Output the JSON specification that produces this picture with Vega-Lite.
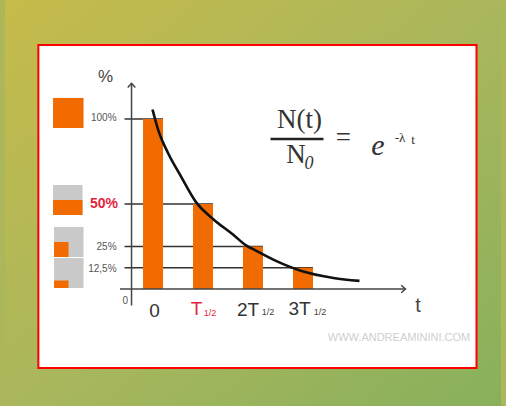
{
  "$schema": "https://vega.github.io/schema/vega-lite/v6.json",
  "width": 506,
  "height": 406,
  "autosize": {"type": "fit", "contains": "padding"},
  "padding": 0,
  "background": "#abb75a",
  "config": {"view": {"stroke": null}},
  "datasets": {
    "bars": [
      {"t": 0, "pct": 100},
      {"t": 1, "pct": 50},
      {"t": 2, "pct": 25},
      {"t": 3, "pct": 12.5}
    ],
    "curve": [
      {"t": -0.01, "pct": 105.6},
      {"t": 0.11, "pct": 93},
      {"t": 0.3, "pct": 80},
      {"t": 0.55, "pct": 66.7},
      {"t": 0.86, "pct": 51.1},
      {"t": 1.2, "pct": 41.2},
      {"t": 1.6, "pct": 32},
      {"t": 1.86, "pct": 25.7},
      {"t": 2.05, "pct": 22.7},
      {"t": 2.47, "pct": 16.4},
      {"t": 2.97, "pct": 10.6},
      {"t": 3.61, "pct": 6.5},
      {"t": 4.13, "pct": 4.8}
    ],
    "icons": [
      {"kind": "fill", "x0": -2.0, "x1": -1.39, "y0": 112.4, "y1": 94.7},
      {"kind": "box", "x0": -2.0, "x1": -1.41, "y0": 61.2, "y1": 43.5},
      {"kind": "fill", "x0": -2.0, "x1": -1.41, "y0": 52.4, "y1": 43.5},
      {"kind": "box", "x0": -1.98, "x1": -1.39, "y0": 36.5, "y1": 18.8},
      {"kind": "fill", "x0": -1.98, "x1": -1.69, "y0": 27.6, "y1": 18.8},
      {"kind": "box", "x0": -1.98, "x1": -1.39, "y0": 18.2, "y1": 0.6},
      {"kind": "fill", "x0": -1.98, "x1": -1.69, "y0": 5.0, "y1": 0.6}
    ],
    "arrows": [
      {"dir": "up", "t": -0.43, "pct": 121},
      {"dir": "right", "t": 5.05, "pct": 0}
    ],
    "ylabels": [
      {"label": "100%", "t": -0.73, "pct": 100.5},
      {"label": "25%", "t": -0.73, "pct": 24.6},
      {"label": "12,5%", "t": -0.73, "pct": 12},
      {"label": "0", "t": -0.5, "pct": -7}
    ],
    "xlabels": [
      {"label": "0", "t": 0.03, "pct": -13},
      {"label": "2T", "t": 1.9, "pct": -12.4},
      {"label": "3T", "t": 2.93, "pct": -12}
    ],
    "subs": [
      {"label": "1/2", "t": 2.3, "pct": -13.7},
      {"label": "1/2", "t": 3.34, "pct": -13.4}
    ],
    "formulaBig": [
      {"label": "N(t)", "t": 2.93, "pct": 99.6},
      {"label": "N", "t": 2.86, "pct": 78.9},
      {"label": "=", "t": 3.81, "pct": 88.8}
    ],
    "formulaSup": [
      {"label": "-λ", "t": 4.94, "pct": 88.6},
      {"label": "t", "t": 5.2, "pct": 87.8}
    ]
  },
  "layer": [
    {
      "data": {"values": [{"a": 1}]},
      "mark": {"type": "rect", "fill": {"gradient": "linear", "x1": 0, "y1": 0, "x2": 1, "y2": 1, "stops": [{"offset": 0, "color": "#c6bb4a"}, {"offset": 0.5, "color": "#aab75c"}, {"offset": 1, "color": "#88b05c"}]}},
      "encoding": {
        "x": {"datum": -2.961, "type": "quantitative", "scale": {"domain": [-2.961, 6.961], "nice": false, "zero": false}, "axis": null},
        "x2": {"datum": 6.961},
        "y": {"datum": 170, "type": "quantitative", "scale": {"domain": [-68.82, 170], "nice": false, "zero": false}, "axis": null},
        "y2": {"datum": -68.82}
      }
    },
    {
      "data": {"values": [{"a": 1}]},
      "mark": {"type": "rect", "fill": "#ffffff", "stroke": "#ff0000", "strokeWidth": 2},
      "encoding": {
        "x": {"datum": -2.294, "type": "quantitative", "scale": {"domain": [-2.961, 6.961], "nice": false, "zero": false}, "axis": null},
        "x2": {"datum": 6.471},
        "y": {"datum": 143.5, "type": "quantitative", "scale": {"domain": [-68.82, 170], "nice": false, "zero": false}, "axis": null},
        "y2": {"datum": -46.5}
      }
    },
    {
      "data": {"name": "bars"},
      "mark": {"type": "rule", "stroke": "#333333", "strokeWidth": 1.5, "xOffset": 10},
      "encoding": {
        "x": {"field": "t", "type": "quantitative", "scale": {"domain": [-2.961, 6.961], "nice": false, "zero": false}, "axis": null},
        "x2": {"datum": -0.57},
        "y": {"field": "pct", "type": "quantitative", "scale": {"domain": [-68.82, 170], "nice": false, "zero": false}, "axis": null}
      }
    },
    {
      "data": {"name": "icons"},
      "mark": {"type": "rect"},
      "encoding": {
        "x": {"field": "x0", "type": "quantitative", "scale": {"domain": [-2.961, 6.961], "nice": false, "zero": false}, "axis": null},
        "x2": {"field": "x1"},
        "y": {"field": "y0", "type": "quantitative", "scale": {"domain": [-68.82, 170], "nice": false, "zero": false}, "axis": null},
        "y2": {"field": "y1"},
        "color": {"field": "kind", "type": "nominal", "scale": {"domain": ["box", "fill"], "range": ["#c9c9c9", "#f26b00"]}, "legend": null}
      }
    },
    {
      "data": {"name": "bars"},
      "mark": {"type": "bar", "color": "#f26b00", "size": 20, "orient": "vertical"},
      "encoding": {
        "x": {"field": "t", "type": "quantitative", "scale": {"domain": [-2.961, 6.961], "nice": false, "zero": false}, "axis": null},
        "y": {"field": "pct", "type": "quantitative", "scale": {"domain": [-68.82, 170], "nice": false, "zero": false}, "axis": null},
        "y2": {"datum": 0}
      }
    },
    {
      "data": {"values": [{"a": 1}]},
      "mark": {"type": "rule", "stroke": "#444444", "strokeWidth": 1.5},
      "encoding": {
        "x": {"datum": -0.43, "type": "quantitative", "scale": {"domain": [-2.961, 6.961], "nice": false, "zero": false}, "axis": null},
        "y": {"datum": -9.7, "type": "quantitative", "scale": {"domain": [-68.82, 170], "nice": false, "zero": false}, "axis": null},
        "y2": {"datum": 121}
      }
    },
    {
      "data": {"values": [{"a": 1}]},
      "mark": {"type": "rule", "stroke": "#444444", "strokeWidth": 1.5},
      "encoding": {
        "x": {"datum": -0.66, "type": "quantitative", "scale": {"domain": [-2.961, 6.961], "nice": false, "zero": false}, "axis": null},
        "x2": {"datum": 5.05},
        "y": {"datum": 0, "type": "quantitative", "scale": {"domain": [-68.82, 170], "nice": false, "zero": false}, "axis": null}
      }
    },
    {
      "data": {"name": "arrows"},
      "mark": {"type": "point", "filled": false, "size": 90, "stroke": "#444444", "strokeWidth": 1.5, "opacity": 1},
      "encoding": {
        "x": {"field": "t", "type": "quantitative", "scale": {"domain": [-2.961, 6.961], "nice": false, "zero": false}, "axis": null},
        "y": {"field": "pct", "type": "quantitative", "scale": {"domain": [-68.82, 170], "nice": false, "zero": false}, "axis": null},
        "shape": {"field": "dir", "type": "nominal", "scale": {"domain": ["up", "right"], "range": ["M-0.8,0.9L0,0L0.8,0.9", "M-0.9,-0.8L0,0L-0.9,0.8"]}, "legend": null}
      }
    },
    {
      "data": {"name": "curve"},
      "mark": {"type": "line", "stroke": "#111111", "strokeWidth": 2.6, "interpolate": "monotone"},
      "encoding": {
        "x": {"field": "t", "type": "quantitative", "scale": {"domain": [-2.961, 6.961], "nice": false, "zero": false}, "axis": null},
        "y": {"field": "pct", "type": "quantitative", "scale": {"domain": [-68.82, 170], "nice": false, "zero": false}, "axis": null}
      }
    },
    {
      "data": {"name": "ylabels"},
      "mark": {"type": "text", "align": "right", "baseline": "middle", "font": "Liberation Sans", "fontSize": 10, "color": "#555555"},
      "encoding": {
        "x": {"field": "t", "type": "quantitative", "scale": {"domain": [-2.961, 6.961], "nice": false, "zero": false}, "axis": null},
        "y": {"field": "pct", "type": "quantitative", "scale": {"domain": [-68.82, 170], "nice": false, "zero": false}, "axis": null},
        "text": {"field": "label", "type": "nominal"}
      }
    },
    {
      "data": {"values": [{"label": "50%", "t": -0.7, "pct": 49.8}]},
      "mark": {"type": "text", "align": "right", "baseline": "middle", "font": "Liberation Sans", "fontSize": 14, "fontWeight": "bold", "color": "#e3263c"},
      "encoding": {
        "x": {"field": "t", "type": "quantitative", "scale": {"domain": [-2.961, 6.961], "nice": false, "zero": false}, "axis": null},
        "y": {"field": "pct", "type": "quantitative", "scale": {"domain": [-68.82, 170], "nice": false, "zero": false}, "axis": null},
        "text": {"field": "label", "type": "nominal"}
      }
    },
    {
      "data": {"values": [{"label": "%", "t": -0.95, "pct": 124.8}]},
      "mark": {"type": "text", "align": "center", "baseline": "middle", "font": "Liberation Sans", "fontSize": 17, "color": "#444444"},
      "encoding": {
        "x": {"field": "t", "type": "quantitative", "scale": {"domain": [-2.961, 6.961], "nice": false, "zero": false}, "axis": null},
        "y": {"field": "pct", "type": "quantitative", "scale": {"domain": [-68.82, 170], "nice": false, "zero": false}, "axis": null},
        "text": {"field": "label", "type": "nominal"}
      }
    },
    {
      "data": {"values": [{"label": "t", "t": 5.3, "pct": -10}]},
      "mark": {"type": "text", "align": "center", "baseline": "middle", "font": "Liberation Sans", "fontSize": 20, "color": "#444444"},
      "encoding": {
        "x": {"field": "t", "type": "quantitative", "scale": {"domain": [-2.961, 6.961], "nice": false, "zero": false}, "axis": null},
        "y": {"field": "pct", "type": "quantitative", "scale": {"domain": [-68.82, 170], "nice": false, "zero": false}, "axis": null},
        "text": {"field": "label", "type": "nominal"}
      }
    },
    {
      "data": {"name": "xlabels"},
      "mark": {"type": "text", "align": "center", "baseline": "middle", "font": "Liberation Sans", "fontSize": 19, "color": "#333333"},
      "encoding": {
        "x": {"field": "t", "type": "quantitative", "scale": {"domain": [-2.961, 6.961], "nice": false, "zero": false}, "axis": null},
        "y": {"field": "pct", "type": "quantitative", "scale": {"domain": [-68.82, 170], "nice": false, "zero": false}, "axis": null},
        "text": {"field": "label", "type": "nominal"}
      }
    },
    {
      "data": {"values": [{"label": "T", "t": 0.87, "pct": -11.8}]},
      "mark": {"type": "text", "align": "center", "baseline": "middle", "font": "Liberation Sans", "fontSize": 19, "color": "#e3263c"},
      "encoding": {
        "x": {"field": "t", "type": "quantitative", "scale": {"domain": [-2.961, 6.961], "nice": false, "zero": false}, "axis": null},
        "y": {"field": "pct", "type": "quantitative", "scale": {"domain": [-68.82, 170], "nice": false, "zero": false}, "axis": null},
        "text": {"field": "label", "type": "nominal"}
      }
    },
    {
      "data": {"values": [{"label": "1/2", "t": 1.14, "pct": -14.4}]},
      "mark": {"type": "text", "align": "center", "baseline": "middle", "font": "Liberation Sans", "fontSize": 9, "color": "#e3263c"},
      "encoding": {
        "x": {"field": "t", "type": "quantitative", "scale": {"domain": [-2.961, 6.961], "nice": false, "zero": false}, "axis": null},
        "y": {"field": "pct", "type": "quantitative", "scale": {"domain": [-68.82, 170], "nice": false, "zero": false}, "axis": null},
        "text": {"field": "label", "type": "nominal"}
      }
    },
    {
      "data": {"name": "subs"},
      "mark": {"type": "text", "align": "center", "baseline": "middle", "font": "Liberation Sans", "fontSize": 9, "color": "#444444"},
      "encoding": {
        "x": {"field": "t", "type": "quantitative", "scale": {"domain": [-2.961, 6.961], "nice": false, "zero": false}, "axis": null},
        "y": {"field": "pct", "type": "quantitative", "scale": {"domain": [-68.82, 170], "nice": false, "zero": false}, "axis": null},
        "text": {"field": "label", "type": "nominal"}
      }
    },
    {
      "data": {"values": [{"label": "WWW.ANDREAMININI.COM", "t": 4.92, "pct": -28.8}]},
      "mark": {"type": "text", "align": "center", "baseline": "middle", "font": "Liberation Sans", "fontSize": 11, "color": "#cfcfcf"},
      "encoding": {
        "x": {"field": "t", "type": "quantitative", "scale": {"domain": [-2.961, 6.961], "nice": false, "zero": false}, "axis": null},
        "y": {"field": "pct", "type": "quantitative", "scale": {"domain": [-68.82, 170], "nice": false, "zero": false}, "axis": null},
        "text": {"field": "label", "type": "nominal"}
      }
    },
    {
      "data": {"name": "formulaBig"},
      "mark": {"type": "text", "align": "center", "baseline": "middle", "font": "Liberation Serif", "fontSize": 27, "color": "#333333"},
      "encoding": {
        "x": {"field": "t", "type": "quantitative", "scale": {"domain": [-2.961, 6.961], "nice": false, "zero": false}, "axis": null},
        "y": {"field": "pct", "type": "quantitative", "scale": {"domain": [-68.82, 170], "nice": false, "zero": false}, "axis": null},
        "text": {"field": "label", "type": "nominal"}
      }
    },
    {
      "data": {"values": [{"label": "0", "t": 3.12, "pct": 73.6}]},
      "mark": {"type": "text", "align": "center", "baseline": "middle", "font": "Liberation Serif", "fontStyle": "italic", "fontSize": 18, "color": "#333333"},
      "encoding": {
        "x": {"field": "t", "type": "quantitative", "scale": {"domain": [-2.961, 6.961], "nice": false, "zero": false}, "axis": null},
        "y": {"field": "pct", "type": "quantitative", "scale": {"domain": [-68.82, 170], "nice": false, "zero": false}, "axis": null},
        "text": {"field": "label", "type": "nominal"}
      }
    },
    {
      "data": {"values": [{"label": "e", "t": 4.5, "pct": 84}]},
      "mark": {"type": "text", "align": "center", "baseline": "middle", "font": "Liberation Serif", "fontStyle": "italic", "fontSize": 30, "color": "#333333"},
      "encoding": {
        "x": {"field": "t", "type": "quantitative", "scale": {"domain": [-2.961, 6.961], "nice": false, "zero": false}, "axis": null},
        "y": {"field": "pct", "type": "quantitative", "scale": {"domain": [-68.82, 170], "nice": false, "zero": false}, "axis": null},
        "text": {"field": "label", "type": "nominal"}
      }
    },
    {
      "data": {"name": "formulaSup"},
      "mark": {"type": "text", "align": "center", "baseline": "middle", "font": "Liberation Serif", "fontSize": 13, "color": "#333333"},
      "encoding": {
        "x": {"field": "t", "type": "quantitative", "scale": {"domain": [-2.961, 6.961], "nice": false, "zero": false}, "axis": null},
        "y": {"field": "pct", "type": "quantitative", "scale": {"domain": [-68.82, 170], "nice": false, "zero": false}, "axis": null},
        "text": {"field": "label", "type": "nominal"}
      }
    },
    {
      "data": {"values": [{"a": 1}]},
      "mark": {"type": "rule", "stroke": "#222222", "strokeWidth": 2.5},
      "encoding": {
        "x": {"datum": 2.35, "type": "quantitative", "scale": {"domain": [-2.961, 6.961], "nice": false, "zero": false}, "axis": null},
        "x2": {"datum": 3.41},
        "y": {"datum": 88.3, "type": "quantitative", "scale": {"domain": [-68.82, 170], "nice": false, "zero": false}, "axis": null}
      }
    }
  ]
}
